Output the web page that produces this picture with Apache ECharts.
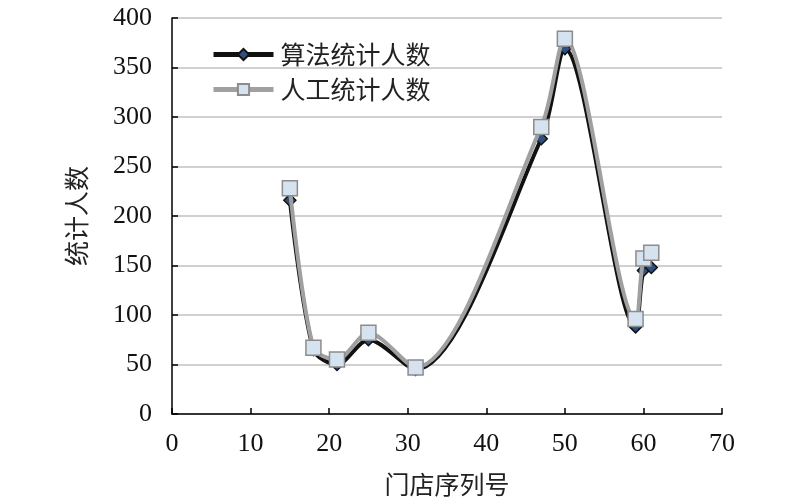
<!DOCTYPE html>
<html>
<head>
<meta charset="utf-8">
<title>统计人数</title>
<script src="https://cdn.jsdelivr.net/npm/echarts@6/dist/echarts.min.js"></script>
<style>
html, body { margin: 0; padding: 0; background: #fff; }
#chart { width: 800px; height: 502px; }
</style>
</head>
<body>
<div id="chart"></div>
<script type="text/javascript">
// 门店序列号
var storeIds = [15, 18, 21, 25, 31, 47, 50, 59, 60, 61];
// 算法统计人数
var algoCounts = [216, 65, 50, 75, 45, 278, 369, 88, 145, 148];
// 人工统计人数
var manualCounts = [228, 67, 55, 82, 47, 290, 379, 96, 157, 163];

var serif = '"Liberation Serif", "Times New Roman", "Noto Sans CJK SC", serif';
var cjk = '"Noto Sans CJK SC", "Liberation Serif", serif';

function pairs(xs, ys) {
	var out = [];
	for (var i = 0; i < xs.length; i++) out.push([xs[i], ys[i]]);
	return out;
}

var chart = echarts.init(document.getElementById('chart'));
chart.setOption({
	animation : false,
	backgroundColor : '#fff',
	grid : {
		left : 172,
		right : 78,
		top : 18,
		bottom : 87
	},
	legend : {
		orient : 'vertical',
		left : 206,
		top : 37,
		itemWidth : 60,
		itemHeight : 14,
		itemGap : 10,
		textStyle : { fontFamily : cjk, fontSize : 25, color : '#222', padding : [0, 0, 0, 2] },
		data : [ {
			name : '算法统计人数',
			lineStyle : { width : 5 }
		}, {
			name : '人工统计人数',
			lineStyle : { width : 5 }
		} ]
	},
	xAxis : {
		type : 'value',
		min : 0,
		max : 70,
		interval : 10,
		name : '门店序列号',
		nameLocation : 'middle',
		nameGap : 58,
		nameTextStyle : { fontFamily : cjk, fontSize : 25, color : '#222' },
		axisLine : { lineStyle : { color : '#000', width : 1.5 } },
		axisTick : { inside : true, length : 6, lineStyle : { color : '#000', width : 1.5 } },
		axisLabel : { fontFamily : serif, fontSize : 26, color : '#111', margin : 17 },
		splitLine : { show : false }
	},
	yAxis : {
		type : 'value',
		min : 0,
		max : 400,
		interval : 50,
		name : '统计人数',
		nameLocation : 'middle',
		nameGap : 83,
		nameTextStyle : { fontFamily : cjk, fontSize : 25, color : '#222' },
		axisLine : { show : true, lineStyle : { color : '#000', width : 1.5 } },
		axisTick : { show : true, inside : true, length : 6, lineStyle : { color : '#000', width : 1.5 } },
		axisLabel : { fontFamily : serif, fontSize : 26, color : '#111', margin : 20 },
		splitLine : { show : true, lineStyle : { color : '#d0d0d0', width : 2 } }
	},
	series : [ {
		name : '算法统计人数',
		type : 'line',
		smooth : 0.3,
		data : pairs(storeIds, algoCounts),
		symbol : 'diamond',
		symbolSize : 12,
		z : 2,
		lineStyle : { color : '#111', width : 4 },
		itemStyle : { color : '#2f4f80', borderColor : '#111', borderWidth : 1.5 }
	}, {
		name : '人工统计人数',
		type : 'line',
		smooth : 0.3,
		data : pairs(storeIds, manualCounts),
		symbol : 'rect',
		symbolSize : 15,
		z : 3,
		lineStyle : { color : '#a0a0a0', width : 4 },
		itemStyle : { color : '#d5e2ef', borderColor : '#8c8c8c', borderWidth : 1.5 }
	} ]
});
</script>
</body>
</html>
